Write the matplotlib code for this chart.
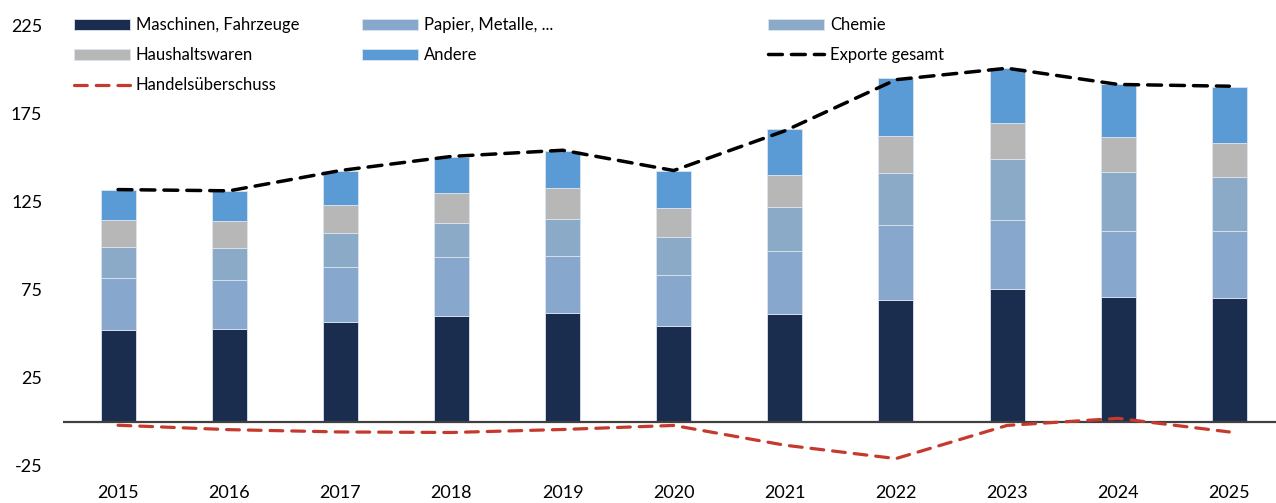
import numpy as np
import matplotlib.pyplot as plt

plt.rcParams['font.family'] = ['Lato', 'DejaVu Sans']

years = ['2015', '2016', '2017', '2018', '2019', '2020', '2021', '2022', '2023', '2024', '2025']

# stacked components (cumulative tops, converted to segments below)
maschinen_top = [52.2, 52.4, 56.7, 60.1, 61.6, 54.3, 61.2, 69.0, 75.1, 70.9, 70.5]
papier_top    = [81.3, 80.7, 87.7, 93.2, 93.8, 83.2, 96.6, 111.8, 114.7, 108.5, 108.5]
chemie_top    = [98.9, 98.3, 107.2, 113.0, 115.1, 104.9, 121.9, 141.3, 149.3, 141.7, 138.9]
haushalt_top  = [114.3, 113.8, 123.2, 130.0, 132.5, 121.3, 139.9, 161.8, 169.3, 161.4, 158.0]
andere_top    = [131.5, 131.0, 142.1, 149.9, 153.5, 142.3, 165.8, 194.7, 200.7, 191.3, 189.9]

exporte = [131.7, 131.0, 142.5, 150.5, 154.0, 142.5, 165.0, 194.0, 200.5, 191.3, 190.3]
handel  = [-1.9, -4.4, -5.7, -6.0, -4.3, -2.0, -13.2, -20.8, -2.0, 2.0, -5.7]

tops = np.array([maschinen_top, papier_top, chemie_top, haushalt_top, andere_top])
names = ['Maschinen, Fahrzeuge', 'Papier, Metalle, ...', 'Chemie', 'Haushaltswaren', 'Andere']
colors = ['#1b2d4f', '#87a7cc', '#8aaac8', '#b7b7b7', '#5b9bd5']

fig = plt.figure(figsize=(12.76, 5.03), dpi=100)
ax = fig.add_axes([62.5/1276, 37/503, 1 - 62.5/1276, 441/503])

x = np.arange(len(years))
bars = []
bottom = np.zeros(len(years))
for i in range(len(names)):
    h = tops[i] - bottom
    b = ax.bar(x, h, 0.315, bottom=bottom, color=colors[i], edgecolor='#dbe4ef',
               linewidth=0.6, zorder=2, label=names[i])
    bars.append(b)
    bottom = tops[i]

ax.axhline(0, color='#404040', lw=1.6, zorder=3)
l_exp, = ax.plot(x, exporte, color='black', lw=2.5, dashes=(4, 2.6),
                 dash_capstyle='round', zorder=4, label='Exporte gesamt')
l_han, = ax.plot(x, handel, color='#c63a2d', lw=2.3, dashes=(4, 2.8),
                 dash_capstyle='round', zorder=4, label='Handelsüberschuss')

ax.set_xlim(-0.5, 10.42)
ax.set_ylim(-25, 225)
ax.set_yticks([-25, 25, 75, 125, 175, 225])
ax.set_yticklabels(['-25', '25', '75', '125', '175', '225'])
ax.set_xticks(x)
ax.set_xticklabels(years)
ax.tick_params(axis='both', length=0, labelsize=13)
ax.tick_params(axis='x', pad=14)
ax.tick_params(axis='y', pad=14.5)
for s in ax.spines.values():
    s.set_visible(False)

# legend: three columns placed separately
cols = [
    ([bars[0], bars[3], l_han], [names[0], names[3], 'Handelsüberschuss'], 74),
    ([bars[1], bars[4]], [names[1], names[4]], 362),
    ([bars[2], l_exp], [names[2], 'Exporte gesamt'], 768),
]
for hs, ls, px in cols:
    leg = fig.legend(hs, ls, loc='upper left', bbox_to_anchor=(px/1276, 1 - 17/503),
                     bbox_transform=fig.transFigure, frameon=False, fontsize=12,
                     handlelength=3.35, handleheight=0.65, handletextpad=0.36,
                     labelspacing=0.85, borderpad=0, borderaxespad=0)

fig.savefig('out.png', dpi=100)
